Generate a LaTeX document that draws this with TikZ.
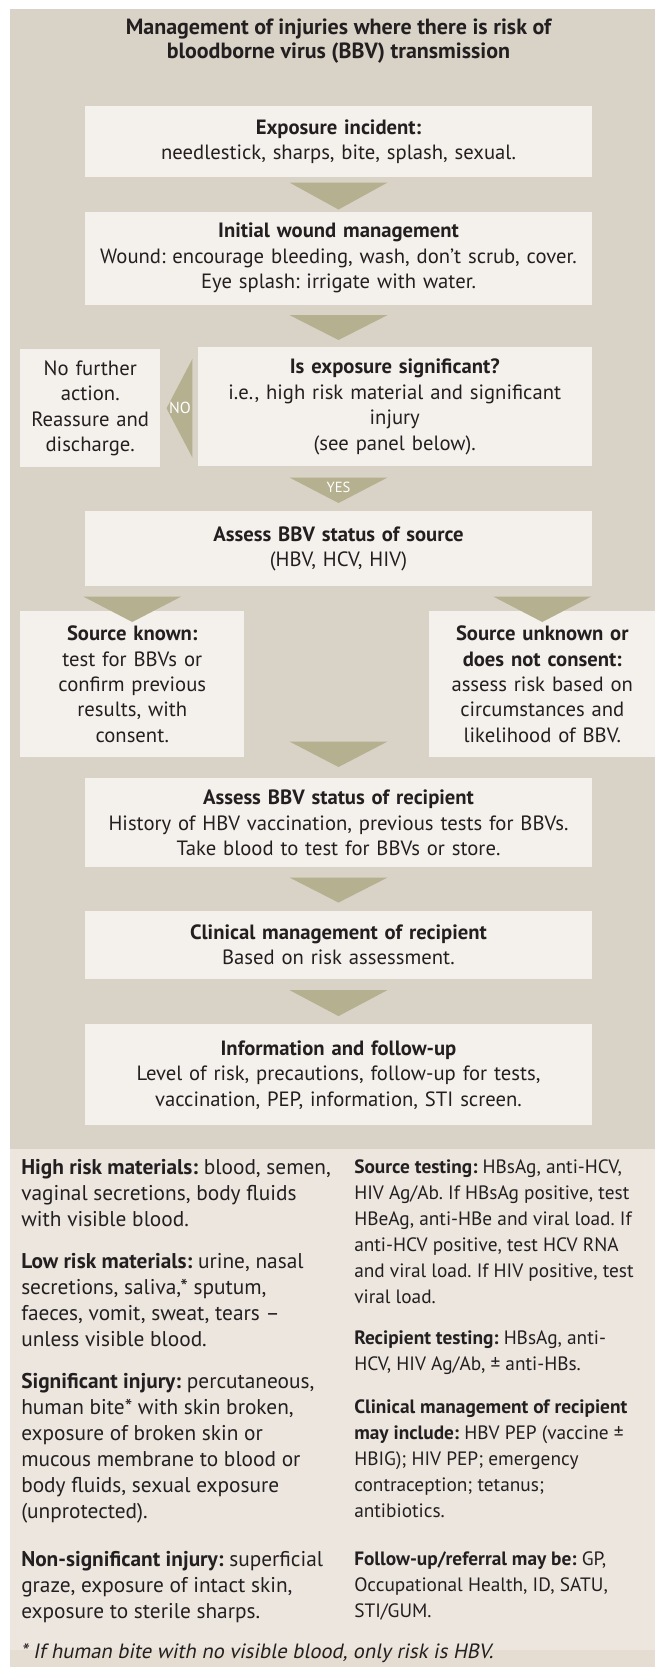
\documentclass[tikz,border=0pt]{standalone}
\usepackage{fontspec}
\setmainfont{PT Sans}
\newfontfamily\slantfont{PT Sans}[FakeSlant=0.2]
\usepackage{tikz}
\usetikzlibrary{positioning,calc}
\definecolor{bgdark}{HTML}{D9D2C6}
\definecolor{boxfill}{HTML}{F4F1EC}
\definecolor{trifill}{HTML}{B4B090}
\definecolor{panelfill}{HTML}{ECE6DF}
\definecolor{footfill}{HTML}{E5DDD1}
\definecolor{inktext}{HTML}{231F20}
\frenchspacing

\begin{document}
\begin{tikzpicture}[x=0.75pt,y=-0.75pt,
	every node/.style={text=inktext,font=\fontsize{15.5pt}{19.1pt}\selectfont},
	flowbox/.style={fill=boxfill,inner sep=0pt,align=center,text width=#1},
	flowbox/.default=380.25pt,
	tri/.style={fill=trifill},
	panel/.style={inner sep=0pt,align=left,anchor=north west,font=\fontsize{16pt}{19.5pt}\selectfont},
	rpanel/.style={panel,font=\fontsize{14.5pt}{19.5pt}\selectfont},
	tag/.style={text=white,inner sep=0pt,font=\fontsize{11pt}{13pt}\selectfont}]
		\useasboundingbox (0,0) rectangle (655,1667);
		\fill[white] (0,0) rectangle (655,1667);
		\fill[bgdark] (10,9) rectangle (655,1149);
		\fill[panelfill] (10,1149) rectangle (655,1650);
		\fill[footfill] (10,1650) rectangle (655,1667);
		
		\node[align=center,font=\fontsize{16.5pt}{18.4pt}\selectfont\bfseries] (title) at (338.5,41) {Management of injuries where there is risk of\\bloodborne virus (BBV) transmission};
		
		\node[flowbox,minimum height=53.25pt,anchor=north] (expo) at (338.5,106) {\textbf{Exposure incident:}\\needlestick, sharps, bite, splash, sexual.};
		\node[flowbox,minimum height=69.75pt,below=25.5pt of expo] (wound) {\textbf{Initial wound management}\\Wound: encourage bleeding, wash, don’t scrub, cover.\\Eye splash: irrigate with water.};
		\node[flowbox=295.5pt,minimum height=89.25pt,anchor=north east] (signif) at (592,347) {\textbf{Is exposure significant?}\\i.e., high risk material and significant\\injury\\(see panel below).};
		\node[flowbox=105pt,minimum height=88.5pt,anchor=north west] (nofurther) at (20,349) {No further\\action.\\Reassure and\\discharge.};
		\node[flowbox,minimum height=56.25pt,anchor=north] (source) at (338.5,511) {\textbf{Assess BBV status of source}\\(HBV, HCV, HIV)};
		\node[flowbox=168pt,minimum height=109.5pt,anchor=north west] (known) at (20,611) {\textbf{Source known:}\\test for BBVs or\\confirm previous\\results, with\\consent.};
		\node[flowbox=169.5pt,minimum height=109.5pt,anchor=north west] (unknown) at (429,611) {\textbf{Source unknown or}\\\textbf{does not consent:}\\assess risk based on\\circumstances and\\likelihood of BBV.};
		\node[flowbox,minimum height=66.75pt,anchor=north] (recip) at (338.5,778) {\textbf{Assess BBV status of recipient}\\History of HBV vaccination, previous tests for BBVs.\\Take blood to test for BBVs or store.};
		\node[flowbox,minimum height=51pt,below=32.25pt of recip] (clinic) {\textbf{Clinical management of recipient}\\Based on risk assessment.};
		\node[flowbox,minimum height=75.75pt,below=33.75pt of clinic] (info) {\textbf{Information and follow-up}\\Level of risk, precautions, follow-up for tests,\\vaccination, PEP, information, STI screen.};
		
		\fill[tri] ($(expo.south)+(-49,5)$) -- ($(expo.south)+(49,5)$) -- ($(wound.north)+(0,-2)$) -- cycle;
		\fill[tri] ($(wound.south)+(-49,10)$) -- ($(wound.south)+(49,10)$) -- ($(signif.north -| wound.north)+(0,-7)$) -- cycle;
		\fill[tri] ($(nofurther.east)+(6,0)$) -- ($(signif.west |- nofurther.east)+(-5,-49.5)$) -- ($(signif.west |- nofurther.east)+(-5,49.5)$) -- cycle;
		\fill[tri] ($(signif.south -| source.north)+(-49,11)$) -- ($(signif.south -| source.north)+(49,11)$) -- ($(source.north)+(0,-8)$) -- cycle;
		\fill[tri] ($(source.south -| known.north)+(-49,10)$) -- ($(source.south -| known.north)+(49,10)$) -- ($(known.north)+(0,11)$) -- cycle;
		\fill[tri] ($(source.south -| unknown.north)+(-49,10)$) -- ($(source.south -| unknown.north)+(49,10)$) -- ($(unknown.north)+(0,11)$) -- cycle;
		\fill[tri] ($(known.south -| recip.north)+(-49,-16)$) -- ($(known.south -| recip.north)+(49,-16)$) -- ($(recip.north)+(0,-11)$) -- cycle;
		\fill[tri] ($(recip.south)+(-49,10)$) -- ($(recip.south)+(49,10)$) -- ($(clinic.north)+(0,-8)$) -- cycle;
		\fill[tri] ($(clinic.south)+(-49,11)$) -- ($(clinic.south)+(49,11)$) -- ($(info.north)+(0,-8)$) -- cycle;
		\node[tag,font=\fontsize{12pt}{14pt}\selectfont] (no) at ($(nofurther.east)!0.5!(signif.west |- nofurther.east)+(1,0)$) {NO};
		\node[tag] (yes) at ($(signif.south -| source.north)+(0,21)$) {YES};
		
		\node[panel] (highrisk) at (21,1159) {\textbf{High risk materials:} blood, semen,\\vaginal secretions, body fluids\\with visible blood.};
		\node[panel] (lowrisk) at (21,1253) {\textbf{Low risk materials:} urine, nasal\\secretions, saliva,* sputum,\\faeces, vomit, sweat, tears –\\unless visible blood.};
		\node[panel] (siginj) at (21,1373) {\textbf{Significant injury:} percutaneous,\\human bite* with skin broken,\\exposure of broken skin or\\mucous membrane to blood or\\body fluids, sexual exposure\\(unprotected).};
		\node[panel] (nonsig) at (21,1551) {\textbf{Non-significant injury:} superficial\\graze, exposure of intact skin,\\exposure to sterile sharps.};
		\node[rpanel] (srctest) at (354,1159) {\textbf{Source testing:} HBsAg, anti-HCV,\\HIV Ag/Ab. If HBsAg positive, test\\HBeAg, anti-HBe and viral load. If\\anti-HCV positive, test HCV RNA\\and viral load. If HIV positive, test\\viral load.};
		\node[rpanel] (rcptest) at (354,1330) {\textbf{Recipient testing:} HBsAg, anti-\\HCV, HIV Ag/Ab, ± anti-HBs.};
		\node[rpanel] (clinmgmt) at (354,1399) {\textbf{Clinical management of recipient}\\\textbf{may include:} HBV PEP (vaccine ±\\HBIG); HIV PEP; emergency\\contraception; tetanus;\\antibiotics.};
		\node[rpanel] (referral) at (354,1551) {\textbf{Follow-up/referral may be:} GP,\\Occupational Health, ID, SATU,\\STI/GUM.};
		\node[panel,anchor=base west,font=\fontsize{15.5pt}{19.5pt}\selectfont\slantfont] (footnote) at (20,1658) {* If human bite with no visible blood, only risk is HBV.};
	\end{tikzpicture}
\end{document}
